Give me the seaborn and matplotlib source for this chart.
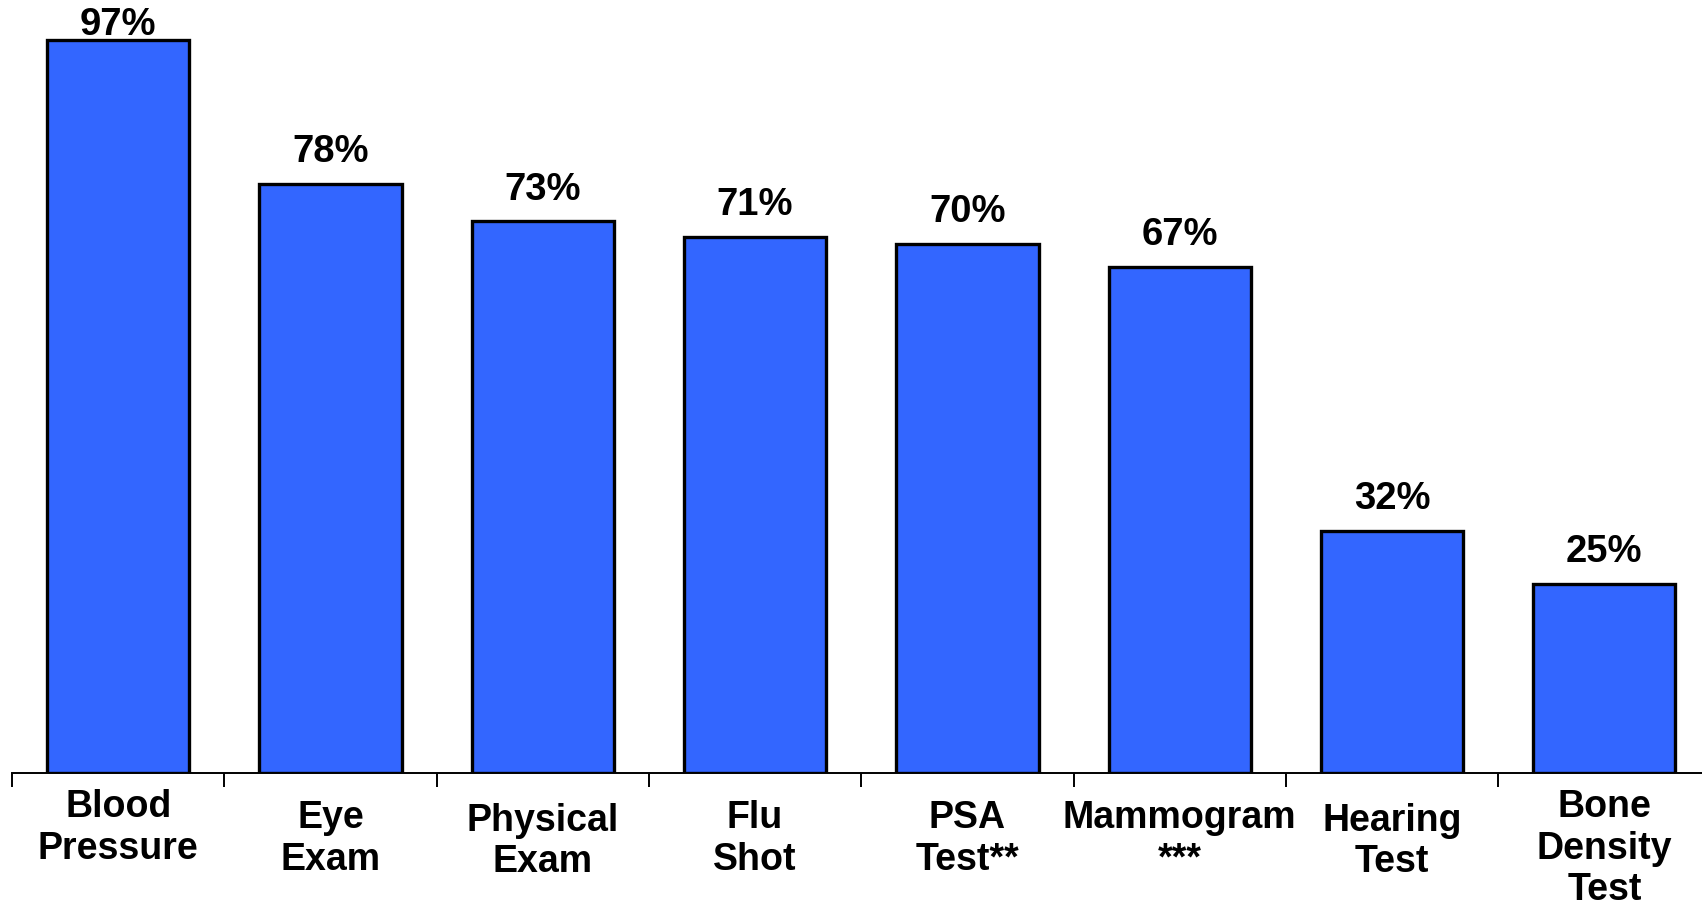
import matplotlib as mpl
mpl.use('Agg')
import numpy as np
import seaborn as sns
import matplotlib.pyplot as plt
from matplotlib.transforms import ScaledTranslation

sns.set_theme(style="white")
plt.rcParams['font.family'] = ['Liberation Sans', 'DejaVu Sans']
plt.rcParams['font.weight'] = 'bold'

# data
categories = ["Blood\nPressure", "Eye\nExam", "Physical\nExam", "Flu\nShot",
              "PSA\nTest**", "Mammogram\n***", "Hearing\nTest", "Bone\nDensity\nTest"]
values = [97, 78, 73, 71, 70, 67, 32, 25]
label_nudge = [8, 0, -2, 0, 0, 0, -2, 8]   # points, small vertical shifts of tick labels

fig = plt.figure(figsize=(17.02, 9.09), dpi=100)
ax = fig.add_axes([12 / 1702, 136 / 909, 1 - 12 / 1702, 1 - 136 / 909])

sns.barplot(x=list(range(len(values))), y=values, color="#3366FF", saturation=1,
            edgecolor="black", linewidth=2.4, width=0.67, ax=ax)

ax.set_xlim(-0.5, 7.46)
ax.set_ylim(0, 102.3)
ax.set_yticks([])
ax.set_ylabel("")
ax.set_xlabel("")

for s in ["top", "left", "right"]:
    ax.spines[s].set_visible(False)
ax.spines["bottom"].set_color("black")
ax.spines["bottom"].set_linewidth(1.4)

ax.set_xticks(range(len(categories)))
ax.set_xticklabels(categories, fontsize=27, fontweight="bold", va="top",
                   linespacing=1.2, color="black")
ax.tick_params(axis="x", which="major", length=0, pad=19.5)
ax.set_xticks(np.arange(-0.5, len(categories) - 1, 1), minor=True)
ax.tick_params(axis="x", which="minor", bottom=True, length=10, width=1.4,
               color="black", direction="out")

for lbl, dy in zip(ax.get_xticklabels(), label_nudge):
    lbl.set_transform(lbl.get_transform() + ScaledTranslation(0, dy / 72, fig.dpi_scale_trans))

anns = ax.bar_label(ax.containers[0], labels=[f"{v}%" for v in values],
                    padding=10, fontsize=27.5, fontweight="bold", color="black")
anns[0].xyann = (0, -2)

fig.savefig("out.png", dpi=100)
